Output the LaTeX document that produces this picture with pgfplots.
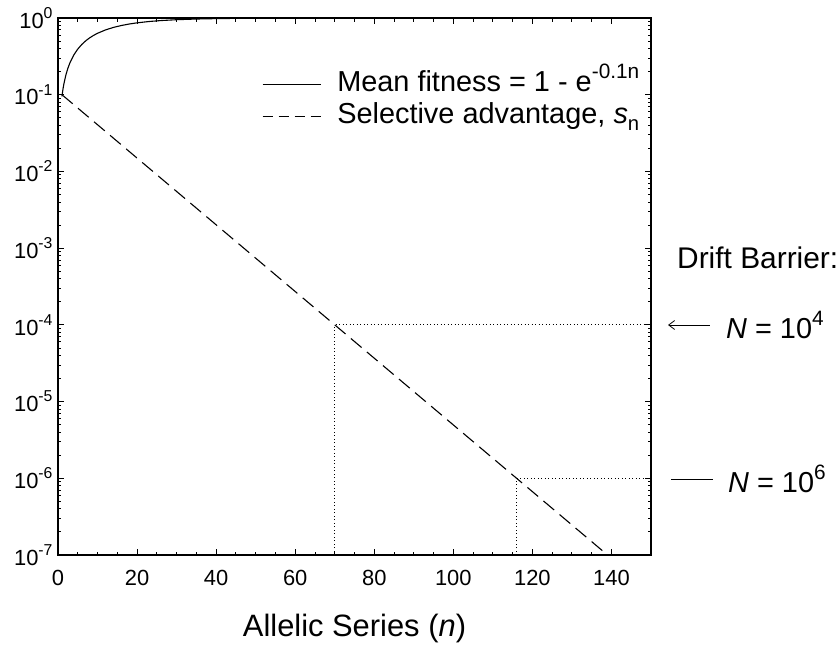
\documentclass[border=0pt]{standalone}
\usepackage{pgfplots}
\pgfplotsset{compat=1.18}
\usepackage{graphicx}
\usepackage{fontspec}
\setmainfont{Liberation Sans}
\usetikzlibrary{arrows.meta}
\newcommand\sups[1]{\raisebox{0.45em}{\scalebox{0.72}{#1}}}
\newcommand\subs[1]{\raisebox{-0.22em}{\scalebox{0.7}{#1}}}
\newcommand\tickfont{\fontsize{22}{26}\selectfont}
\newcommand\tl[1]{\mbox{\tickfont #1}}
\begin{document}
\begin{tikzpicture}
\path[use as bounding box] (-58bp,-93bp) rectangle (782bp,555bp);
\begin{axis}[
  at={(0,0)}, anchor=south west,
  scale only axis, width=593bp, height=537bp,
  xmin=0, xmax=150, ymode=log, ymin=1e-7, ymax=1,
  xtick={0,20,...,140}, minor x tick num=3,
  xticklabels={\tl{0},\tl{20},\tl{40},\tl{60},\tl{80},\tl{100},\tl{120},\tl{140}},
  ytick={1e-7,1e-6,1e-5,1e-4,1e-3,1e-2,1e-1,1},
  yticklabels={\tl{10\sups{-7}},\tl{10\sups{-6}},\tl{10\sups{-5}},\tl{10\sups{-4}},\tl{10\sups{-3}},\tl{10\sups{-2}},\tl{10\sups{-1}},\tl{10\sups{0}}},
  tick label style={font=\tickfont},
  tick align=inside,
  major tick length=6bp, minor tick length=3.5bp,
  axis line style={line width=1.2bp},
  every tick/.style={line width=0.9bp, black},
  xticklabel style={yshift=-12bp},
  yticklabel style={xshift=-2bp},
  xlabel={Allelic Series (\textit{n})},
  xlabel style={at={(axis description cs:0.5,0)}, anchor=center, yshift=-73bp, font=\fontsize{31}{36}\selectfont},
  legend style={draw=none, fill=none, at={(0.344,0.904)}, anchor=north west,
    font=\fontsize{29}{29}\selectfont, row sep=2bp, inner sep=0pt,
    nodes={inner sep=0pt, text height=22bp, text depth=8bp},
    legend cell align=left},
  legend image code/.code={\draw[#1] (0bp,0bp) -- (58bp,0bp); \path (74bp,0bp);},
  clip=true,
]
\addplot[black, line width=1.1bp] coordinates {
(1,0.09516) (1.25,0.11750) (1.5,0.13929) (2,0.18127) (2.5,0.22120) (3,0.25918)
(4,0.32968) (5,0.39347) (6,0.45119) (7,0.50341) (8,0.55067) (9,0.59343)
(10,0.63212) (12,0.69881) (14,0.75340) (16,0.79810) (18,0.83470) (20,0.86466)
(23,0.89974) (26,0.92573) (30,0.95021) (35,0.96980) (40,0.98168) (45,0.98889)
(50,0.99326) (60,0.99752) (70,0.99909) (80,0.99966) (100,0.99995) (120,0.999994) (150,1.0)
};
\addlegendentry{Mean fitness = 1 - e\sups{-0.1n}}
\addplot[black, line width=1.1bp, dash pattern=on 14bp off 7bp,
  legend image post style={dash pattern=on 10bp off 6bp}] coordinates {
(1,0.1) (139,1e-7)
};
\addlegendentry{Selective advantage, \textit{s}\subs{n}}
\addplot[black, line width=0.9bp, dash pattern=on 1bp off 2.5bp, forget plot] coordinates {
(70,1e-7) (70,1e-4) (150,1e-4)
};
\addplot[black, line width=0.9bp, dash pattern=on 1bp off 2.5bp, forget plot] coordinates {
(116,1e-7) (116,1e-6) (150,1e-6)
};
\end{axis}
\node[anchor=west, font=\fontsize{30}{34}\selectfont, inner sep=0pt] at (619bp,297bp) {Drift Barrier:};
\draw[line width=0.8bp, {Straight Barb[length=6bp,width=9bp]}-] (610bp,230bp) -- (652bp,230bp);
\node[anchor=west, font=\fontsize{29}{33}\selectfont, inner sep=0pt] at (668bp,230bp) {\textit{N} = 10\sups{4}};
\draw[line width=0.8bp] (613bp,76bp) -- (655bp,76bp);
\node[anchor=west, font=\fontsize{29}{33}\selectfont, inner sep=0pt] at (670bp,76bp) {\textit{N} = 10\sups{6}};
\end{tikzpicture}
\end{document}
